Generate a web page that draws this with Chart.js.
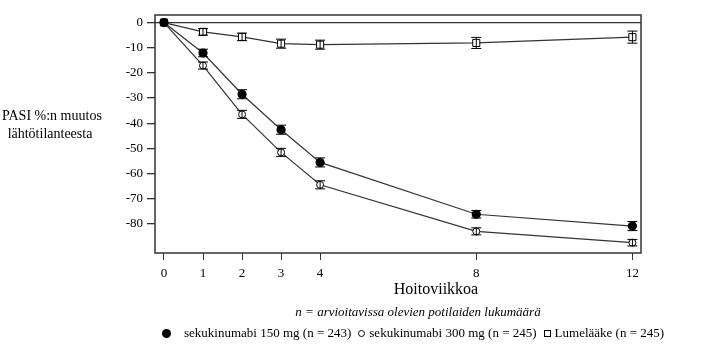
<!DOCTYPE html>
<html lang="fi">
<head>
<meta charset="UTF-8">
<title>PASI %:n muutos</title>
<script src="https://cdn.jsdelivr.net/npm/chart.js"></script>
<style>
    body { margin: 0; background: #fff; color: #000; font-family: "Liberation Serif", "Times New Roman", serif; }
    .wrap { position: relative; width: 703px; height: 360px; overflow: hidden; }
    canvas { position: absolute; left: 0; top: 0; }
    .ytitle { position: absolute; left: 2px; top: 107px; width: 96px; text-align: center; font-size: 14px; line-height: 18px; white-space: nowrap; }
    .xtitle { position: absolute; left: 336px; width: 200px; top: 280px; text-align: center; font-size: 16px; }
    .note { position: absolute; left: 218px; width: 400px; top: 304px; text-align: center; font-size: 13px; font-style: italic; }
    .legend { position: absolute; left: 160px; top: 325px; font-size: 13px; white-space: nowrap; }
    .legend span.item { margin-right: 5px; }
    .sym { display: inline-block; vertical-align: middle; margin: 0 8px 2px 2px; box-sizing: border-box; }
    .sym.dot { width: 9px; height: 9px; border-radius: 50%; background: #000; margin-right: 13px; }
    .sym.ring { width: 7px; height: 7px; border-radius: 50%; border: 1px solid #000; margin-right: 4px; }
    .sym.box { width: 7px; height: 7px; border: 1px solid #000; margin-right: 4px; }
</style>
</head>
<body>
<div class="wrap">
    <canvas id="pasi" width="703" height="360"></canvas>
    <div class="ytitle">PASI %:n muutos<br>lähtötilanteesta</div>
    <div class="xtitle">Hoitoviikkoa</div>
    <div class="note">n = arvioitavissa olevien potilaiden lukumäärä</div>
    <div class="legend" id="legend"></div>
</div>
<script>
    const weeks = [0, 1, 2, 3, 4, 8, 12];
    const yTicks = [0, -10, -20, -30, -40, -50, -60, -70, -80];
    const seriesNames = ['sekukinumabi 150 mg (n = 243)', 'sekukinumabi 300 mg (n = 245)', 'Lumelääke (n = 245)'];

    const mean150 = [0, -12.1, -28.5, -42.6, -55.6, -76.2, -80.9];
    const err150 = [0, 1.5, 1.8, 1.8, 1.8, 1.5, 1.8];
    const mean300 = [0, -17.1, -36.5, -51.6, -64.5, -83.0, -87.5];
    const err300 = [0, 1.4, 1.6, 1.6, 1.6, 1.4, 1.3];
    const meanPlacebo = [0, -3.7, -5.7, -8.4, -8.8, -8.1, -5.8];
    const errPlacebo = [0, 1.3, 1.5, 1.8, 1.8, 2.2, 2.4];

    const lineColor = '#333';

    function toPoints(vals, errs) {
        return weeks.map((w, i) => ({ x: w, y: vals[i], e: errs[i] }));
    }

    // error bars + frame, drawn through the chart scales
    const extras = {
        id: 'extras',
        afterDatasetsDraw(chart) {
            const { ctx, chartArea, scales } = chart;
            ctx.save();
            ctx.strokeStyle = '#000';
            ctx.lineWidth = 1;
            chart.data.datasets.forEach(ds => {
                ds.data.forEach(p => {
                    if (!p.e) return;
                    const x = scales.x.getPixelForValue(p.x);
                    const y1 = scales.y.getPixelForValue(p.y + p.e);
                    const y2 = scales.y.getPixelForValue(p.y - p.e);
                    ctx.beginPath();
                    ctx.moveTo(x, y1); ctx.lineTo(x, y2);
                    ctx.moveTo(x - 5, y1); ctx.lineTo(x + 5, y1);
                    ctx.moveTo(x - 5, y2); ctx.lineTo(x + 5, y2);
                    ctx.stroke();
                });
            });
            ctx.strokeStyle = '#333';
            ctx.lineWidth = 1.5;
            ctx.strokeRect(chartArea.left, chartArea.top, chartArea.right - chartArea.left, chartArea.bottom - chartArea.top);
            ctx.restore();
        }
    };

    new Chart(document.getElementById('pasi'), {
        type: 'line',
        data: {
            datasets: [
                {
                    label: seriesNames[0],
                    data: toPoints(mean150, err150),
                    borderColor: lineColor, borderWidth: 1.2,
                    pointStyle: 'circle', pointRadius: 4,
                    pointBackgroundColor: '#000', pointBorderColor: '#000'
                },
                {
                    label: seriesNames[1],
                    data: toPoints(mean300, err300),
                    borderColor: lineColor, borderWidth: 1.2,
                    pointStyle: 'circle', pointRadius: 3.5,
                    pointBackgroundColor: '#fff', pointBorderColor: '#000', pointBorderWidth: 1
                },
                {
                    label: seriesNames[2],
                    data: toPoints(meanPlacebo, errPlacebo),
                    borderColor: lineColor, borderWidth: 1.2,
                    pointStyle: 'rect', pointRadius: 5,
                    pointBackgroundColor: '#fff', pointBorderColor: '#000', pointBorderWidth: 1
                }
            ]
        },
        options: {
            responsive: false,
            animation: false,
            layout: { padding: { left: 0, top: 15, right: 62, bottom: 0 } },
            plugins: { legend: { display: false }, tooltip: { enabled: false } },
            scales: {
                x: {
                    type: 'linear',
                    min: -0.23, max: 12.22,
                    afterBuildTicks: s => { s.ticks = weeks.map(v => ({ value: v })); },
                    afterFit: s => { s.height = 107; },
                    border: { display: false },
                    grid: { drawOnChartArea: false, color: '#333', tickLength: 7, lineWidth: 1 },
                    ticks: { color: '#000', padding: 6, font: { family: 'Liberation Serif', size: 13 } }
                },
                y: {
                    min: -91.6, max: 3.0,
                    afterBuildTicks: s => { s.ticks = yTicks.map(v => ({ value: v })); },
                    afterFit: s => { s.width = 155; },
                    border: { display: false },
                    grid: {
                        color: c => c.tick && c.tick.value === 0 ? '#333' : 'rgba(0,0,0,0)',
                        tickColor: '#333', tickLength: 8, lineWidth: 1.3
                    },
                    ticks: { color: '#000', padding: 4, font: { family: 'Liberation Serif', size: 13 } }
                }
            }
        },
        plugins: [extras]
    });

    const syms = ['dot', 'ring', 'box'];
    document.getElementById('legend').innerHTML = seriesNames
        .map((n, i) => '<span class="item"><span class="sym ' + syms[i] + '"></span>' + n + '</span>')
        .join('');
</script>
</body>
</html>
